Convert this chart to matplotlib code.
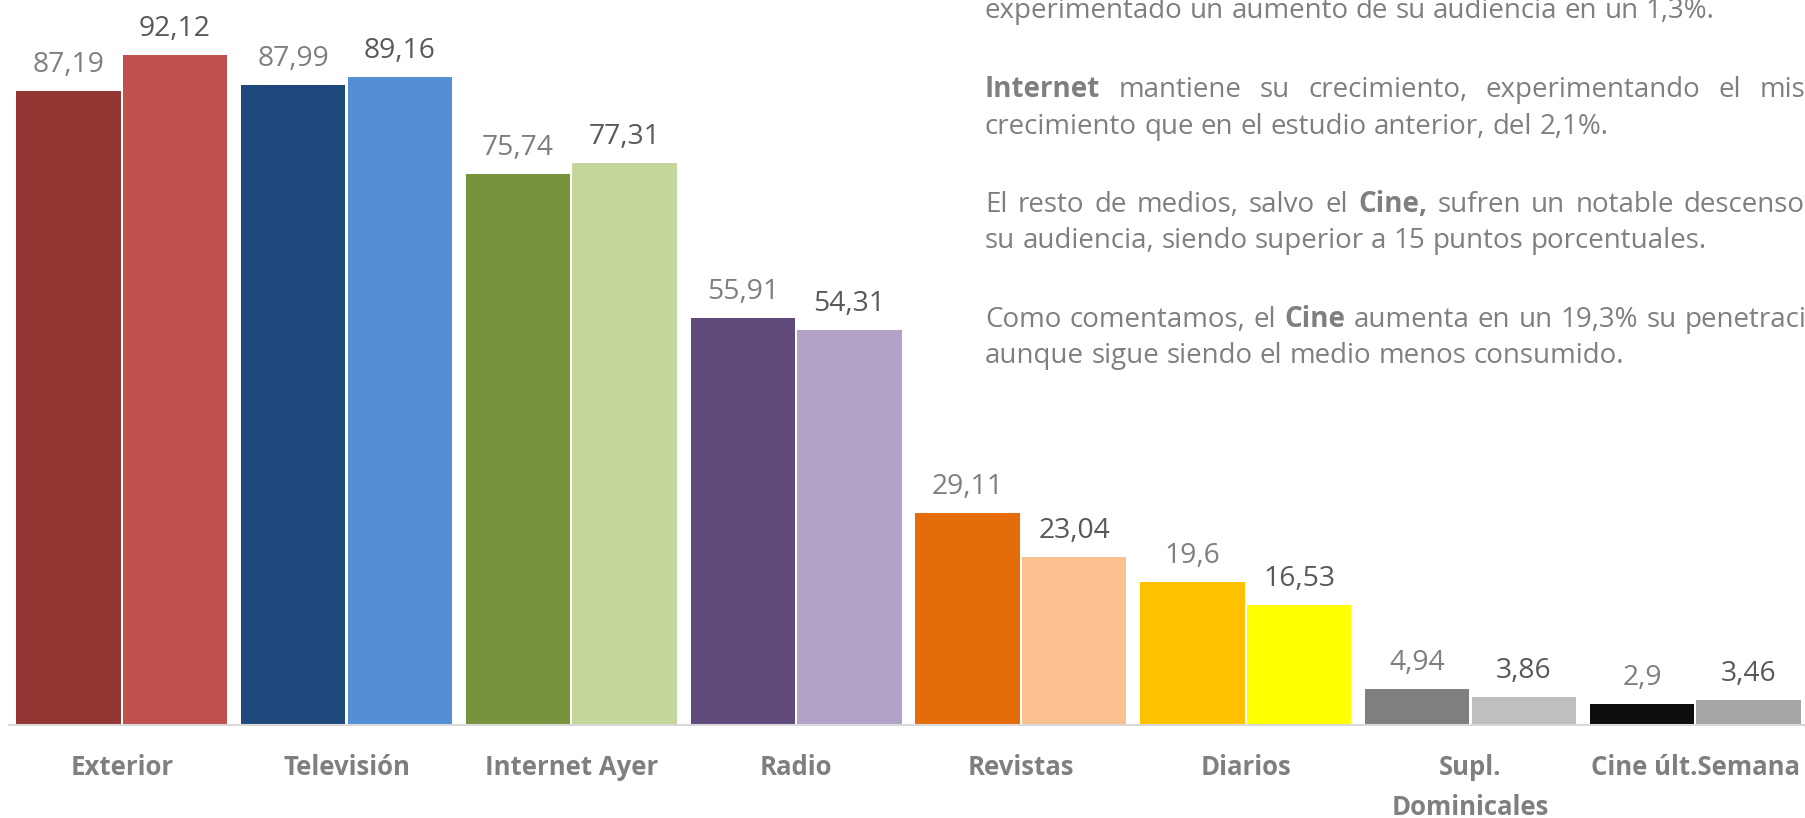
import numpy as np
import matplotlib
matplotlib.use("Agg")
import matplotlib.pyplot as plt
from matplotlib.font_manager import FontProperties

# ---------------- data ----------------
categories = ["Exterior", "Televisión", "Internet Ayer", "Radio", "Revistas",
              "Diarios", "Supl.\nDominicales", "Cine últ.Semana"]
values_prev = [87.19, 87.99, 75.74, 55.91, 29.11, 19.6, 4.94, 2.9]
values_curr = [92.12, 89.16, 77.31, 54.31, 23.04, 16.53, 3.86, 3.46]
colors_prev = ["#943634", "#1F497D", "#77933C", "#604A7B", "#E46C0A",
               "#FFC000", "#7F7F7F", "#0D0D0D"]
colors_curr = ["#C0504D", "#558ED5", "#C3D69B", "#B3A2C7", "#FAC090",
               "#FFFF00", "#BFBFBF", "#A6A6A6"]

# side text lines: (baseline px from top, text, bold words, justified?)
side_text = [
    (18, "experimentado un aumento de su audiencia en un 1,3%.", [], False),
    (97, "Internet mantiene su crecimiento, experimentando el mismo", ["Internet"], True),
    (134, "crecimiento que en el estudio anterior, del 2,1%.", [], False),
    (212, "El resto de medios, salvo el Cine, sufren un notable descenso en", ["Cine,"], True),
    (248, "su audiencia, siendo superior a 15 puntos porcentuales.", [], False),
    (327, "Como comentamos, el Cine aumenta en un 19,3% su penetración,", ["Cine"], True),
    (363, "aunque sigue siendo el medio menos consumido.", [], False),
]

# ---------------- figure ----------------
W, H = 1806, 818
DPI = 100
FONT = "Open Sans"
fig = plt.figure(figsize=(W / DPI, H / DPI), dpi=DPI)
fig.patch.set_facecolor("white")
renderer = fig.canvas.get_renderer()


def width_of(s, fs, bold=False):
    t = fig.text(0, 0, s, fontsize=fs, family=FONT,
                 fontweight="bold" if bold else "normal")
    w = t.get_window_extent(renderer).width
    t.remove()
    return w


# font sizes chosen so that text widths match the reference layout
VFS = 20 * 72 / width_of("92,12", 20)
CFS = 20 * 103 / width_of("Exterior", 20, True)
TFS = 18 * 0.5 * (720 / width_of(side_text[4][1], 18) + 730 / width_of(side_text[0][1], 18))

# category label metrics for pad / line spacing
cprop = FontProperties(family=FONT, weight="bold", size=CFS)
_, lp_h, lp_d = renderer.get_text_width_height_descent("lp", cprop, ismath=False)
asc = lp_h - lp_d
AXIS_Y = 725          # px from top where the category axis lies
LABEL_BASE = 775      # px from top: baseline of first label line
LINE_STEP = 40        # px between label baselines
pad_pt = (LABEL_BASE - AXIS_Y - asc) * 72 / DPI
lspacing = (LINE_STEP - lp_d) / asc

ax = fig.add_axes([9.3 / W, (H - AXIS_Y) / H, 1798.4 / W, 720 / H])
ax.set_xlim(-0.5, len(categories) - 0.5)
ax.set_ylim(0, 99)

x = np.arange(len(categories))
bw = 0.464
off = bw / 2 + 0.005
bars1 = ax.bar(x - off, values_prev, width=bw, color=colors_prev, zorder=2)
bars2 = ax.bar(x + off, values_curr, width=bw, color=colors_curr, zorder=2)


def fmt(v):
    return f"{v:g}".replace(".", ",")


for bars, vals, col in ((bars1, values_prev, "#7F7F7F"), (bars2, values_curr, "#595959")):
    for rect, v in zip(bars, vals):
        ax.annotate(fmt(v), (rect.get_x() + rect.get_width() / 2, v),
                    xytext=(0, 13.7), textcoords="offset points",
                    ha="center", va="baseline", fontsize=VFS, family=FONT,
                    color=col)

for s in ["top", "left", "right"]:
    ax.spines[s].set_visible(False)
ax.spines["bottom"].set_color("#D9D9D9")
ax.spines["bottom"].set_linewidth(1.5)
ax.spines["bottom"].set_zorder(3)
ax.set_yticks([])
ax.set_xticks(x)
ax.set_xticklabels(categories, fontsize=CFS, family=FONT, fontweight="bold",
                   color="#7F7F7F", linespacing=lspacing)
ax.tick_params(axis="x", length=0, pad=pad_pt)
ax.set_facecolor("none")

# ---------------- side text (justified) ----------------
TCOL = "#7F7F7F"
LEFT = 985

# right margin of the justified block, set so that "descenso" ends where it does
ref_words = side_text[3][1].split(" ")
ref_w = [width_of(w, TFS, w in side_text[3][2]) for w in ref_words]
gap_ref = (1805 - LEFT - sum(ref_w[:-1])) / (len(ref_words) - 2)
RIGHT = LEFT + sum(ref_w) + gap_ref * (len(ref_words) - 1)
space_w = width_of("n n", TFS) - width_of("nn", TFS)

for base, line, bold_words, justify in side_text:
    words = line.split(" ")
    bolds = [w in bold_words for w in words]
    widths = [width_of(w, TFS, b) for w, b in zip(words, bolds)]
    if justify and len(words) > 1:
        gap = (RIGHT - LEFT - sum(widths)) / (len(words) - 1)
    else:
        gap = space_w
    xp = LEFT
    for w, b, wd in zip(words, bolds, widths):
        fig.text(xp / W, 1 - base / H, w, fontsize=TFS, family=FONT,
                 fontweight="bold" if b else "normal", color=TCOL,
                 ha="left", va="baseline")
        xp += wd + gap

fig.savefig("out.png", dpi=DPI, facecolor="white")
